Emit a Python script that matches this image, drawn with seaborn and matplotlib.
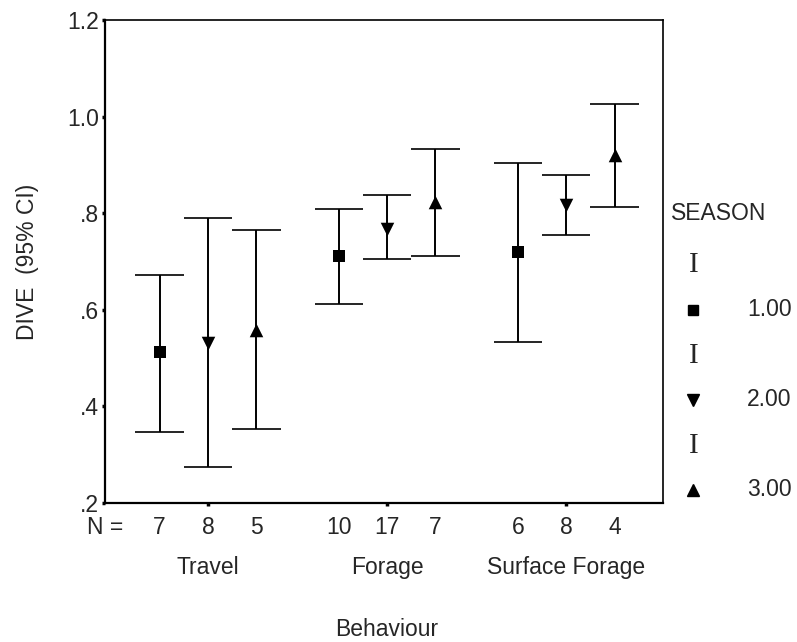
import numpy as np
import pandas as pd
import matplotlib
matplotlib.use("Agg")
import matplotlib.pyplot as plt
import seaborn as sns
from matplotlib.lines import Line2D

# Behaviour groups, seasons and sample sizes
behaviours = ["Travel", "Forage", "Surface Forage"]
seasons = ["1.00", "2.00", "3.00"]
n_counts = [[7, 8, 5], [10, 17, 7], [6, 8, 4]]

# Mean DIVE and 95% CI limits, per behaviour (rows) and season (columns)
dive_mean = [[0.513, 0.531, 0.558],
             [0.711, 0.767, 0.823],
             [0.720, 0.817, 0.920]]
ci_low = [[0.347, 0.275, 0.353],
          [0.612, 0.705, 0.711],
          [0.533, 0.755, 0.813]]
ci_high = [[0.672, 0.790, 0.765],
           [0.809, 0.838, 0.933],
           [0.904, 0.879, 1.026]]

y_ticks = [0.2, 0.4, 0.6, 0.8, 1.0, 1.2]
y_tick_labels = [".2", ".4", ".6", ".8", "1.0", "1.2"]

sns.set_theme(style="white")
plt.rcParams["font.family"] = ["Liberation Sans", "DejaVu Sans"]
FS = 16.5

offset = 0.27
cap_half = 0.135
rows = []
for bi, b in enumerate(behaviours):
    for si, s in enumerate(seasons):
        rows.append({"behaviour": b, "season": s,
                     "x": bi + (si - 1) * offset,
                     "mean": dive_mean[bi][si],
                     "lo": ci_low[bi][si], "hi": ci_high[bi][si],
                     "n": n_counts[bi][si]})
df = pd.DataFrame(rows)

fig = plt.figure(figsize=(7.97, 6.42), dpi=100)
ax = fig.add_axes([0.1317, 0.2165, 0.8318 - 0.1317, 0.9688 - 0.2165])

# confidence interval whiskers with caps
ax.vlines(df["x"], df["lo"], df["hi"], color="black", lw=1.4, zorder=2)
ax.hlines(df["lo"], df["x"] - cap_half, df["x"] + cap_half, color="black", lw=1.2, zorder=2)
ax.hlines(df["hi"], df["x"] - cap_half, df["x"] + cap_half, color="black", lw=1.2, zorder=2)

markers = {"1.00": "s", "2.00": "v", "3.00": "^"}
sizes = {"1.00": 75, "2.00": 95, "3.00": 95}
for s in seasons:
    sub = df[df["season"] == s]
    sns.scatterplot(data=sub, x="x", y="mean", marker=markers[s], s=sizes[s],
                    color="black", edgecolor="black", linewidth=0, ax=ax,
                    legend=False, zorder=3)

ax.set_xlim(-0.575, 2.54)
ax.set_ylim(0.2, 1.2)
ax.set_yticks(y_ticks)
ax.set_yticklabels(y_tick_labels, fontsize=FS)
ax.set_xticks([0, 1, 2])
ax.set_xticklabels([])
ax.tick_params(axis="both", which="both", direction="out", length=2.5, width=2.5,
               color="black", left=True, bottom=True, pad=2)
ax.set_xlabel("")
ax.set_ylabel("DIVE  (95% CI)", fontsize=FS, labelpad=20)

for side in ["left", "bottom"]:
    ax.spines[side].set_linewidth(1.6)
for side in ["top", "right"]:
    ax.spines[side].set_linewidth(1.2)
for sp in ax.spines.values():
    sp.set_color("black")

# sample sizes under each point
trans = ax.get_xaxis_transform()
for _, r in df.iterrows():
    ax.text(r["x"], -0.05, str(r["n"]), transform=trans, ha="center", va="center", fontsize=FS)
ax.text(-0.575, -0.05, "N =", transform=trans, ha="center", va="center", fontsize=FS)

# behaviour labels
for bi, b in enumerate(behaviours):
    ax.text(bi, -0.133, b, transform=trans, ha="center", va="center", fontsize=FS)
ax.text(1, -0.262, "Behaviour", transform=trans, ha="center", va="center", fontsize=FS)

# season legend
fig.text(0.842, 1 - 213 / 642, "SEASON", ha="left", va="center", fontsize=FS)
legend_rows = [(265, 310, "s"), (356, 400, "v"), (446, 490, "^")]
for (ybar, ymark, mk), lab in zip(legend_rows, seasons):
    fig.text(694 / 797, 1 - ybar / 642, "I", ha="center", va="center",
             fontsize=21, family="Liberation Serif")
    fig.add_artist(Line2D([693 / 797], [1 - ymark / 642], marker=mk, color="black",
                          markersize=7.5 if mk == "s" else 8.5, linestyle="none",
                          transform=fig.transFigure))
    fig.text(747 / 797, 1 - ymark / 642, lab, ha="left", va="center", fontsize=FS)

fig.savefig("out.png", dpi=100, facecolor="white")
